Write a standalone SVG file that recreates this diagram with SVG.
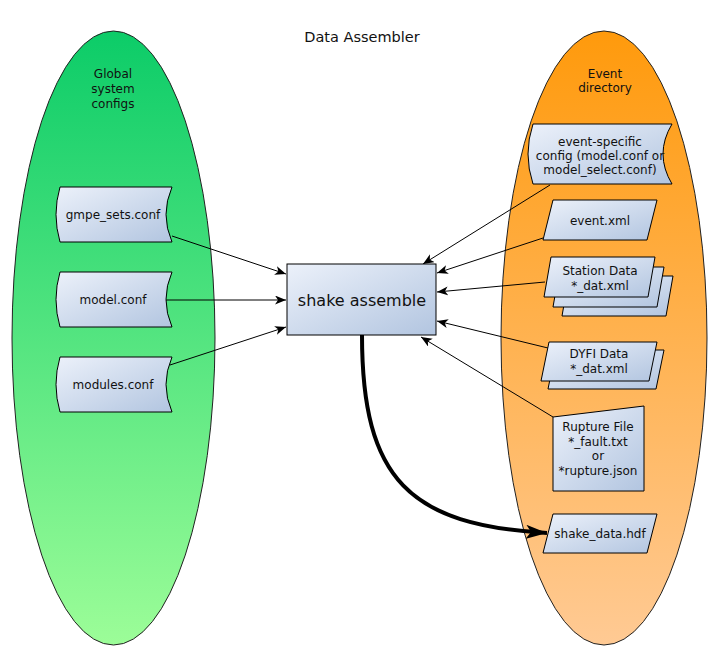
<svg xmlns="http://www.w3.org/2000/svg" width="718" height="653" viewBox="0 0 718 653">
<style>
text{font-family:"DejaVu Sans","Liberation Sans",sans-serif;fill:#111;text-anchor:middle}
.t{font-size:12px}
.node{fill:url(#nodeGrad);stroke:#000;stroke-width:1}
.edge{fill:none;stroke:#000;stroke-width:1}
</style>
<defs>
<linearGradient id="greenGrad" x1="0" y1="0" x2="0" y2="1">
<stop offset="0" stop-color="#0ccc68"/>
<stop offset="1" stop-color="#9cfd98"/>
</linearGradient>
<linearGradient id="orangeGrad" x1="0" y1="0" x2="0" y2="1">
<stop offset="0" stop-color="#ff9a0c"/>
<stop offset="1" stop-color="#ffca94"/>
</linearGradient>
<linearGradient id="nodeGrad" x1="0" y1="0" x2="1" y2="1">
<stop offset="0" stop-color="#ecf1fa"/>
<stop offset="1" stop-color="#b2c5e0"/>
</linearGradient>
<marker id="arr" markerUnits="userSpaceOnUse" markerWidth="12" markerHeight="10" refX="11" refY="4.5" orient="auto">
<path d="M0,0 L11,4.5 L0,9 L3,4.5 Z" fill="#000"/>
</marker>
<marker id="arrBig" markerUnits="userSpaceOnUse" markerWidth="22" markerHeight="16" refX="21" refY="7" orient="auto">
<path d="M0,0 L21,7 L0,14 L5,7 Z" fill="#000"/>
</marker>
</defs>

<g id="global-configs">
<ellipse cx="113.5" cy="338" rx="101.5" ry="307" fill="url(#greenGrad)" stroke="#222" stroke-width="1"/>
<text class="t" x="113" y="78">Global</text>
<text class="t" x="113" y="93">system</text>
<text class="t" x="113" y="108">configs</text>
</g>
<g id="event-directory">
<ellipse cx="604" cy="338" rx="103" ry="307" fill="url(#orangeGrad)" stroke="#222" stroke-width="1"/>
<text class="t" x="605" y="78">Event</text>
<text class="t" x="605" y="92">directory</text>
</g>

<text id="title" x="362" y="42" style="font-size:14.5px">Data Assembler</text>

<g id="connectors">
<line class="edge" x1="172" y1="236" x2="286" y2="274" marker-end="url(#arr)"/>
<line class="edge" x1="166" y1="300" x2="286" y2="300" marker-end="url(#arr)"/>
<line class="edge" x1="170" y1="365" x2="286" y2="327" marker-end="url(#arr)"/>
<line class="edge" x1="550" y1="185" x2="423" y2="264" marker-end="url(#arr)"/>
<line class="edge" x1="543" y1="238" x2="437" y2="273" marker-end="url(#arr)"/>
<line class="edge" x1="545" y1="282" x2="437" y2="292" marker-end="url(#arr)"/>
<line class="edge" x1="548" y1="348" x2="437" y2="321" marker-end="url(#arr)"/>
<line class="edge" x1="553" y1="417" x2="421" y2="337" marker-end="url(#arr)"/>
<path d="M362,335 C362,480 410,525 547,533" fill="none" stroke="#000" stroke-width="4" marker-end="url(#arrBig)"/>
</g>

<g id="gmpe-sets">
<path class="node" d="M60,187 L172,187 Q160,214.5 172,242 L60,242 Q52,214.5 60,187 Z"/>
<text class="t" x="113" y="219">gmpe_sets.conf</text>
</g>
<g id="model-conf">
<path class="node" d="M60,272 L172,272 Q160,299.5 172,327 L60,327 Q52,299.5 60,272 Z"/>
<text class="t" x="113" y="304">model.conf</text>
</g>
<g id="modules-conf">
<path class="node" d="M60,357 L172,357 Q160,384.5 172,412 L60,412 Q52,384.5 60,357 Z"/>
<text class="t" x="113" y="389">modules.conf</text>
</g>

<g id="shake-assemble">
<rect class="node" x="287" y="264" width="149" height="71"/>
<text x="362" y="306" style="font-size:16px">shake assemble</text>
</g>

<g id="event-specific-config">
<path class="node" d="M533,124 L672,124 Q654,154 672,184 L533,184 Q523,154 533,124 Z"/>
<text class="t" x="600" y="146">event-specific</text>
<text class="t" x="600" y="160">config (model.conf or</text>
<text class="t" x="600" y="174">model_select.conf)</text>
</g>

<g id="event-xml">
<path class="node" d="M553,200 L657,200 L647,240 L543,240 Z"/>
<text class="t" x="600" y="225">event.xml</text>
</g>

<g id="station-data">
<path class="node" d="M569,276 L673,276 L666,316 L562,316 Z"/>
<path class="node" d="M560,267 L664,267 L657,307 L553,307 Z"/>
<path class="node" d="M551,257 L655,257 L648,297 L544,297 Z"/>
<text class="t" x="600" y="275">Station Data</text>
<text class="t" x="600" y="290">*_dat.xml</text>
</g>

<g id="dyfi-data">
<path class="node" d="M556,350 L664,350 L656,389 L548,389 Z"/>
<path class="node" d="M549,342 L657,342 L649,381 L541,381 Z"/>
<text class="t" x="599" y="358">DYFI Data</text>
<text class="t" x="599" y="373">*_dat.xml</text>
</g>

<g id="rupture-file">
<path class="node" d="M553,417 L644,406 L644,491 L553,491 Z"/>
<text class="t" x="598" y="431">Rupture File</text>
<text class="t" x="598" y="446">*_fault.txt</text>
<text class="t" x="598" y="460">or</text>
<text class="t" x="598" y="475">*rupture.json</text>
</g>

<g id="shake-data">
<path class="node" d="M553,514 L657,514 L647,553 L543,553 Z"/>
<text class="t" x="600" y="538">shake_data.hdf</text>
</g>
</svg>
